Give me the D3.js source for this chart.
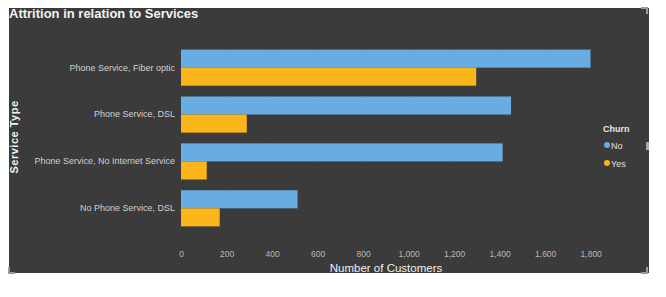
<!DOCTYPE html>
<html>
<head>
<meta charset="utf-8">
<script src="https://cdn.jsdelivr.net/npm/d3@7"></script>
<style>
  body { margin: 0; background: #fff; }
  svg text { font-family: Arial, "Liberation Sans", sans-serif; }
</style>
</head>
<body>
<div id="chart"></div>
<script>
// service types, top to bottom
var services = ["Phone Service, Fiber optic", "Phone Service, DSL",
                "Phone Service, No Internet Service", "No Phone Service, DSL"];
var churnKeys = ["No", "Yes"];
var churnNo  = [1799, 1450, 1413, 512];
var churnYes = [1297, 289, 113, 170];
var xTicks = [0, 200, 400, 600, 800, 1000, 1200, 1400, 1600, 1800];

var colors = { No: "#67ade2", Yes: "#fbb619" };

var W = 666, H = 297;
var svg = d3.select("#chart").append("svg").attr("width", W).attr("height", H);

// dark panel
svg.append("rect").attr("x", 9).attr("y", 8).attr("width", 640).attr("height", 265)
  .attr("fill", "#3b3b3b");

// resize handle bits
var corners = [[647, 8, -1, 1], [647, 273, -1, -1], [9, 273, 1, -1]];
corners.forEach(function (c) {
  svg.append("path")
    .attr("d", "M" + (c[0] + c[2] * 6) + "," + c[1] + "H" + c[0] + "V" + (c[1] + c[3] * 6))
    .attr("fill", "none").attr("stroke", "#9a9a9a").attr("stroke-width", 2);
});
svg.append("rect").attr("x", 646).attr("y", 142).attr("width", 3).attr("height", 8).attr("fill", "#aaa");

var data = services.map(function (s, i) {
  return { service: s, No: churnNo[i], Yes: churnYes[i] };
});

var x = d3.scaleLinear().domain([0, 1800]).range([181, 590.7]);
var y = d3.scaleBand().domain(services).range([44, 232]).paddingInner(0.23).paddingOuter(0.12);
var yInner = d3.scaleBand().domain(churnKeys).range([0, y.bandwidth()]);

// faint gridlines
svg.append("g").selectAll("line").data(xTicks).join("line")
  .attr("x1", function (d) { return x(d); }).attr("x2", function (d) { return x(d); })
  .attr("y1", 40).attr("y2", 240)
  .attr("stroke", "#424242").attr("stroke-width", 1).attr("stroke-dasharray", "1,1");

// bars
var groups = svg.append("g").selectAll("g").data(data).join("g")
  .attr("transform", function (d) { return "translate(0," + y(d.service) + ")"; });

groups.selectAll("rect")
  .data(function (d) { return churnKeys.map(function (k) { return { key: k, value: d[k] }; }); })
  .join("rect")
  .attr("x", x(0))
  .attr("y", function (d) { return yInner(d.key); })
  .attr("height", yInner.bandwidth())
  .attr("width", function (d) { return x(d.value) - x(0); })
  .attr("fill", function (d) { return colors[d.key]; });

// y axis labels
var yAxis = svg.append("g").attr("transform", "translate(175,0)")
  .call(d3.axisLeft(y).tickSize(0).tickPadding(0));
yAxis.select(".domain").remove();
yAxis.selectAll("text").attr("fill", "#d0d0d0").style("font-size", "9px");

// x axis labels
var xAxis = svg.append("g").attr("transform", "translate(0,248)")
  .call(d3.axisBottom(x).tickValues(xTicks).tickSize(0).tickPadding(3).tickFormat(d3.format(",")));
xAxis.select(".domain").remove();
xAxis.selectAll("text").attr("fill", "#b8b8b8").style("font-size", "8.5px");

// titles
svg.append("text").attr("x", 9).attr("y", 18)
  .attr("fill", "#f2f2f2").style("font-size", "13px").style("font-weight", "bold")
  .text("Attrition in relation to Services");

svg.append("text").attr("x", 386).attr("y", 272).attr("text-anchor", "middle")
  .attr("fill", "#f0f0f0").style("font-size", "11.5px")
  .text("Number of Customers");

svg.append("text").attr("transform", "translate(18,137) rotate(-90)")
  .attr("text-anchor", "middle").attr("fill", "#f0f0f0")
  .style("font-size", "11px").style("font-weight", "bold").style("letter-spacing", "0.5px")
  .text("Service Type");

// legend
var legend = svg.append("g").attr("transform", "translate(603,0)");
legend.append("text").attr("x", 0).attr("y", 132)
  .attr("fill", "#e8e8e8").style("font-size", "9px").style("font-weight", "bold").text("Churn");
legend.selectAll("g.item").data(churnKeys).join("g").attr("class", "item")
  .each(function (k, i) {
    var g = d3.select(this);
    var cy = 145 + i * 18;
    g.append("circle").attr("cx", 4).attr("cy", cy).attr("r", 3).attr("fill", colors[k]);
    g.append("text").attr("x", 8).attr("y", cy + 3.5)
      .attr("fill", "#e0e0e0").style("font-size", "9px").text(k);
  });
</script>
</body>
</html>
